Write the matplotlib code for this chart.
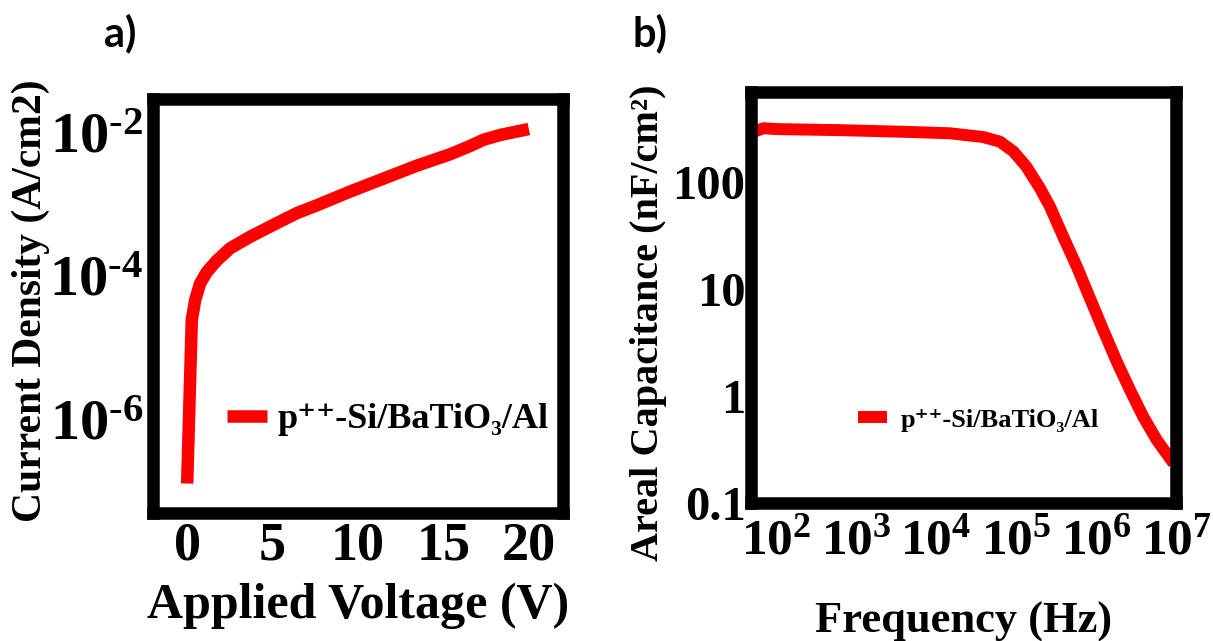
import matplotlib
matplotlib.use('Agg')
import matplotlib.pyplot as plt
from matplotlib.ticker import FixedLocator, FixedFormatter, NullLocator

# panel a: J-V curve
voltage = [0.0, 0.27, 0.47, 0.76, 1.15, 1.74, 2.52, 3.69, 5.25, 6.42, 7.59, 9.54,
           11.49, 13.45, 15.40, 16.57, 17.35, 18.33, 20.0]
current_density = [1.26e-7, 2.4e-5, 4.57e-5, 7.76e-5, 1.12e-4, 1.62e-4, 2.4e-4,
                   3.47e-4, 5.37e-4, 7.41e-4, 9.5e-4, 1.48e-3, 2.24e-3, 3.4e-3,
                   4.9e-3, 6.4e-3, 7.8e-3, 9.1e-3, 1.1e-2]
a_yticks = [1e-6, 1e-4, 1e-2]
a_yticklabels = ['$10^{\u20106}$', '$10^{\u20104}$', '$10^{\u20102}$']
a_xticks = [0, 5, 10, 15, 20]

# panel b: C-f curve
frequency = [50, 70, 100, 630, 4270, 14960, 38900, 63100, 93300, 134900, 199500,
             266100, 389000, 575400, 841000, 1.23e6, 1.82e6, 2.66e6, 3.89e6,
             5.75e6, 9.33e6]
capacitance = [290, 318, 312, 305, 294, 285, 263, 238, 192, 139, 87.3,
               58.7, 30.8, 16.2, 8.18, 4.14, 2.09, 1.14, 0.641, 0.388, 0.235]
b_xticks = [1e2, 1e3, 1e4, 1e5, 1e6, 1e7]
b_xticklabels = [r'$10^{2}$', r'$10^{3}$', r'$10^{4}$', r'$10^{5}$', r'$10^{6}$', r'$10^{7}$']
b_yticks = [0.1, 1, 10, 100]
b_yticklabels = ['0.1', '1', '10', '100']

legend_label = 'p\u207a\u207a-Si/BaTiO\u2083/Al'

plt.rcParams['font.family'] = ['Liberation Serif', 'DejaVu Serif']
plt.rcParams['font.weight'] = 'bold'
plt.rcParams['axes.labelweight'] = 'bold'
plt.rcParams['mathtext.fontset'] = 'custom'
plt.rcParams['mathtext.rm'] = 'Liberation Serif:bold'
plt.rcParams['mathtext.it'] = 'Liberation Serif:bold'
plt.rcParams['mathtext.bf'] = 'Liberation Serif:bold'

fig = plt.figure(figsize=(12.13, 6.41), dpi=100)
W, H = 1213, 641


def frame(ax):
    for sp in ax.spines.values():
        sp.set_linewidth(9)
        sp.set_capstyle('projecting')
    ax.tick_params(length=0)


# ---- panel a ----
ax1 = fig.add_axes([153 / W, 1 - 513 / H, 410 / W, 414 / H])
ax1.plot(voltage, current_density, color='#ff0000', lw=9, label=legend_label,
         solid_capstyle='butt')
ax1.set_yscale('log')
ax1.set_xlim(-2, 22)
ax1.set_ylim(10 ** -7.31, 10 ** -1.54)
ax1.xaxis.set_major_locator(FixedLocator(a_xticks))
ax1.yaxis.set_major_locator(FixedLocator(a_yticks))
ax1.yaxis.set_major_formatter(FixedFormatter(a_yticklabels))
ax1.yaxis.set_minor_locator(NullLocator())
frame(ax1)
ax1.tick_params(axis='x', labelsize=39, pad=6)
ax1.tick_params(axis='y', labelsize=42, pad=7)
ax1.set_xlabel('Applied Voltage (V)', fontsize=36)
ax1.xaxis.label.set_verticalalignment('center')
ax1.xaxis.set_label_coords(0.5, -0.225)
ax1.set_ylabel('Current Density (A/cm2)', fontsize=30)
ax1.yaxis.label.set_verticalalignment('center')
ax1.yaxis.set_label_coords(-0.298, 0.514)
ax1.legend(loc='center left', bbox_to_anchor=(0.18, 0.225), frameon=False,
           fontsize=26, handlelength=1.1, handletextpad=0.3,
           borderpad=0, borderaxespad=0)

# ---- panel b ----
ax2 = fig.add_axes([751 / W, 1 - 503 / H, 425 / W, 411 / H])
ax2.plot(frequency, capacitance, color='#ff0000', lw=8.6, label=legend_label,
         solid_capstyle='butt')
ax2.set_xscale('log')
ax2.set_yscale('log')
ax2.set_xlim(48.7, 1e7)
ax2.set_ylim(0.1, 693)
ax2.xaxis.set_major_locator(FixedLocator(b_xticks))
ax2.xaxis.set_major_formatter(FixedFormatter(b_xticklabels))
ax2.yaxis.set_major_locator(FixedLocator(b_yticks))
ax2.yaxis.set_major_formatter(FixedFormatter(b_yticklabels))
ax2.xaxis.set_minor_locator(NullLocator())
ax2.yaxis.set_minor_locator(NullLocator())
frame(ax2)
ax2.tick_params(axis='x', labelsize=37, pad=11)
ax2.tick_params(axis='y', labelsize=35, pad=4)
ax2.set_xlabel('Frequency (Hz)', fontsize=32)
ax2.xaxis.label.set_verticalalignment('center')
ax2.xaxis.set_label_coords(0.5, -0.29)
ax2.set_ylabel('Areal Capacitance (nF/cm²)', fontsize=29)
ax2.yaxis.label.set_verticalalignment('center')
ax2.yaxis.set_label_coords(-0.242, 0.438)
ax2.legend(loc='center left', bbox_to_anchor=(0.252, 0.202), frameon=False,
           fontsize=19, handlelength=1.1, handletextpad=0.5,
           borderpad=0, borderaxespad=0)

# panel letters
fig.text(120 / W, 1 - 33 / H, 'a)', family='Lato', weight='bold', fontsize=30,
         ha='center', va='center')
fig.text(650 / W, 1 - 33 / H, 'b)', family='Lato', weight='bold', fontsize=30,
         ha='center', va='center')

fig.savefig('out.png', dpi=100)
